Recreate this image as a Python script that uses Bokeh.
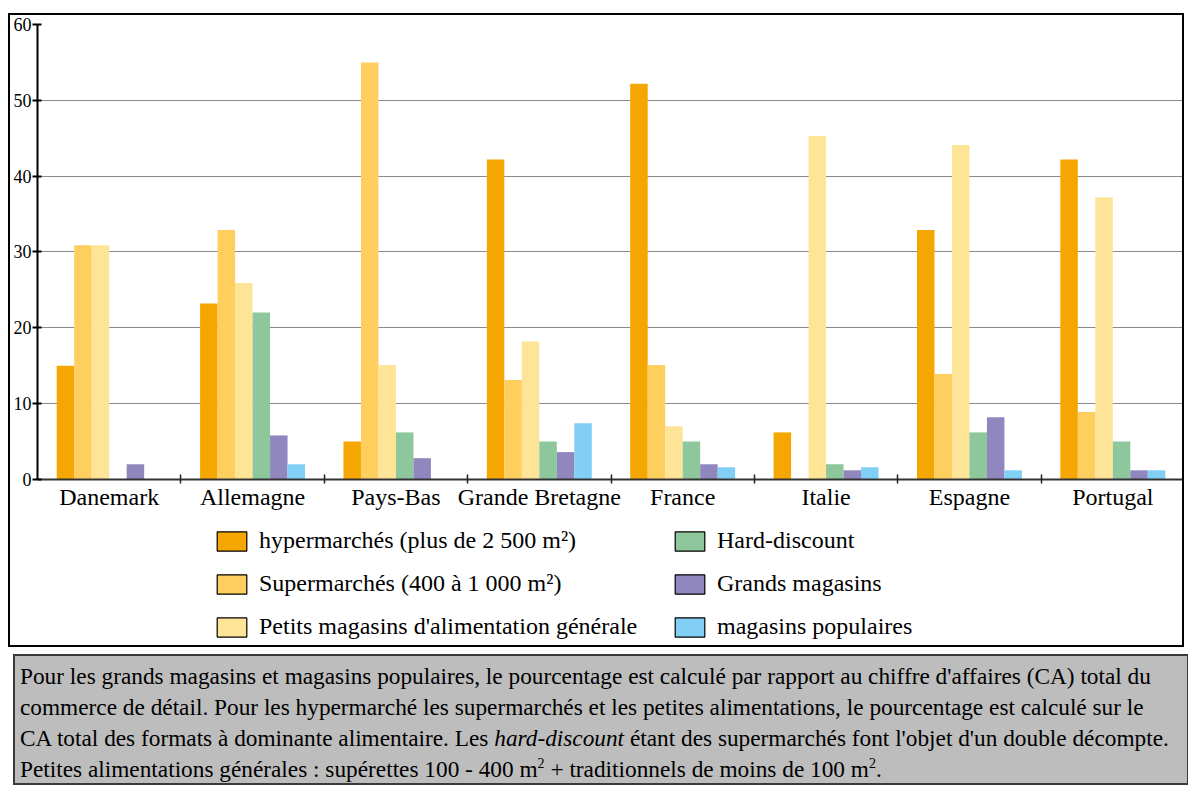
import numpy as np
from bokeh.plotting import figure
from bokeh.models import ColumnDataSource, FixedTicker, Legend, LegendItem, Div, Range1d, Spacer, LinearAxis
from bokeh.layouts import column, row
from bokeh.embed import file_html
from bokeh.resources import INLINE

countries = ["Danemark", "Allemagne", "Pays-Bas", "Grande Bretagne",
             "France", "Italie", "Espagne", "Portugal"]
hyper = [15, 23.2, 5, 42.2, 52.2, 6.2, 32.9, 42.2]
supermarches = [30.9, 32.9, 55, 13.1, 15.1, 0, 13.9, 8.9]
petits = [30.9, 25.9, 15.1, 18.2, 7, 45.3, 44.1, 37.2]
hard_discount = [0, 22, 6.2, 5, 5, 2, 6.2, 5]
grands = [2, 5.8, 2.8, 3.6, 2, 1.2, 8.2, 1.2]
populaires = [0, 2, 0, 7.4, 1.6, 1.6, 1.2, 1.2]

series_labels = ["hypermarchés (plus de 2 500 m²)",
                 "Supermarchés (400 à 1 000 m²)",
                 "Petits magasins d'alimentation générale",
                 "Hard-discount", "Grands magasins", "magasins populaires"]
series_values = [hyper, supermarches, petits, hard_discount, grands, populaires]
colors = ["#F6A600", "#FECE5E", "#FEE496", "#8DC79B", "#9087BF", "#81CFF4"]
y_ticks = [0, 10, 20, 30, 40, 50, 60]

FONT = "Liberation Serif"
n = len(countries)
centers = np.arange(n) + 0.5
bw = 0.122

FRAME_H = 621
y_start = -(FRAME_H - 452) * 60.0 / 452

p = figure(width=1176, height=634, output_backend="svg", toolbar_location=None,
           x_range=Range1d(0, n), y_range=Range1d(y_start, 60),
           x_axis_location=None,
           min_border_left=22, min_border_right=2, min_border_top=9,
           min_border_bottom=0)
p.styles = {"border": "2px solid black"}
p.outline_line_color = None
p.background_fill_color = "white"
p.border_fill_color = "white"

renderers = []
for k, (vals, col) in enumerate(zip(series_values, colors)):
    src = ColumnDataSource(dict(x=centers + (k - 2.5) * bw, top=vals))
    p.vbar(x="x", top="top", width=bw, bottom=0, source=src,
           fill_color=col, line_color=None)
    # hidden twin of the series, only used to draw the outlined legend swatch
    r = p.vbar(x="x", top="top", width=bw, bottom=0, source=src,
               fill_color=col, line_color="black", line_width=1.2, visible=False)
    renderers.append(r)

p.xgrid.grid_line_color = None
p.ygrid.grid_line_color = "#8a8a8a"
p.ygrid.grid_line_width = 1
p.ygrid.ticker = FixedTicker(ticks=y_ticks[1:])

ya = p.yaxis[0]
ya.ticker = FixedTicker(ticks=y_ticks)
ya.bounds = (0, 60)
ya.axis_line_color = "black"
ya.axis_line_width = 2
ya.major_tick_in = 4
ya.major_tick_out = 5
ya.major_tick_line_width = 2
ya.minor_tick_line_color = None
ya.major_label_standoff = 1
ya.major_label_text_font = FONT
ya.major_label_text_font_size = "18px"
ya.major_label_text_color = "black"

xa = LinearAxis(fixed_location=0)
xa.ticker = FixedTicker(ticks=list(centers), minor_ticks=list(range(1, n)))
xa.major_label_overrides = {float(c): name for c, name in zip(centers, countries)}
xa.major_tick_line_color = None
xa.major_tick_out = 0
xa.major_tick_in = 0
xa.minor_tick_in = 5
xa.minor_tick_out = 4
xa.minor_tick_line_width = 1.5
xa.minor_tick_line_color = "#222222"
xa.axis_line_color = "#333333"
xa.axis_line_width = 2
xa.major_label_standoff = 1
xa.major_label_text_font = FONT
xa.major_label_text_font_size = "24px"
xa.major_label_text_color = "black"
p.add_layout(xa, "below")

def make_legend(items, loc):
    lg = Legend(items=items, location=loc, orientation="vertical")
    lg.glyph_width = 37
    lg.glyph_height = 24
    lg.label_standoff = 9
    lg.label_height = 26
    lg.spacing = 16
    lg.padding = 0
    lg.margin = 0
    lg.border_line_color = None
    lg.background_fill_alpha = 0
    lg.label_text_font = FONT
    lg.label_text_font_size = "24px"
    lg.label_text_color = "black"
    lg.click_policy = "none"
    return lg

items1 = [LegendItem(label=series_labels[i], renderers=[renderers[i]], index=0) for i in range(3)]
items2 = [LegendItem(label=series_labels[i], renderers=[renderers[i]], index=0) for i in range(3, 6)]
p.add_layout(make_legend(items1, (176, 9)))
p.add_layout(make_legend(items2, (634, 9)))

sup = '<span style="font-size:14px; vertical-align: 9px; line-height: 0">2</span>'
note_html = (
    '<div style="font-family: \'Liberation Serif\', serif; font-size: 23.3px; '
    'line-height: 31px; color: black; white-space: nowrap; overflow: hidden; '
    'background: #bdbdbd; border: 2px solid #3a3a3a; box-sizing: border-box; '
    'width: 1176px; height: 131px; padding: 5px 5px;">'
    'Pour les grands magasins et magasins populaires, le pourcentage est calculé par rapport au chiffre d\'affaires (CA) total du<br>'
    'commerce de détail. Pour les hypermarché les supermarchés et les petites alimentations, le pourcentage est calculé sur le<br>'
    'CA total des formats à dominante alimentaire. Les <i>hard-discount</i> étant des supermarchés font l\'objet d\'un double décompte.<br>'
    'Petites alimentations générales : supérettes 100 - 400 m' + sup + ' + traditionnels de moins de 100 m' + sup + '.'
    '</div>'
)
note = Div(text=note_html, width=1176, height=131)

layout = row(Spacer(width=8, height=10),
             column(Spacer(width=10, height=13), p, Spacer(width=10, height=2), note, spacing=0),
             spacing=0)
open("out.html", "w").write(file_html(layout, INLINE))
